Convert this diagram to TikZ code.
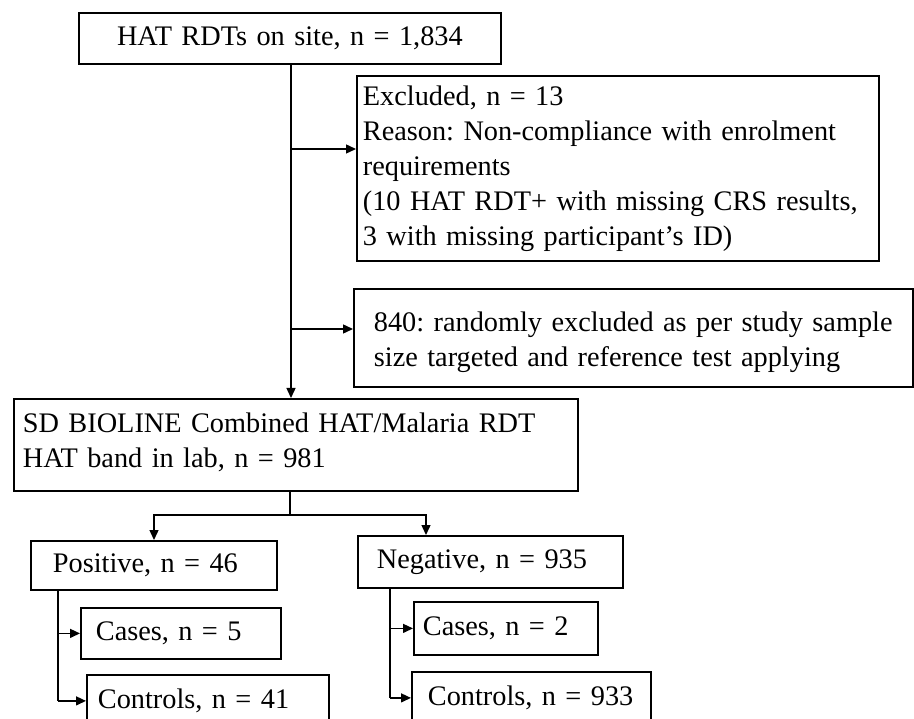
\documentclass[tikz,border=0pt]{standalone}
\usepackage{fontspec}
\setmainfont{Liberation Serif}
\usetikzlibrary{arrows.meta}
\begin{document}
\frenchspacing
\begin{tikzpicture}[x=1pt,y=-1pt,
  box/.style={draw, line width=1.8pt, anchor=north west, align=left,
    inner ysep=0pt, font={\fontsize{28.3}{35}\selectfont\hyphenpenalty=10000}},
  link/.style={line width=1.4pt},
  arr/.style={link, -{Triangle[length=10pt,width=9pt]}}]
\useasboundingbox (0,0) rectangle (914,719);

% boxes: width = text width + 2*inner xsep
\node[box, inner xsep=0pt, text width=422pt, align=center, minimum height=51pt] (top) at (78,12) {HAT RDTs on site, n = 1,834};
\node[box, inner xsep=6pt, text width=510pt, minimum height=185pt] (excl) at (356,75)
  {Excluded, n = 13\\Reason: Non-compliance with enrolment\\requirements\\(10 HAT RDT+ with missing CRS results,\\3 with missing participant’s ID)};
\node[box, inner xsep=20pt, text width=519pt, minimum height=98pt] (rand) at (353,288)
  {\\[-6pt]840: randomly excluded as per study sample\\size targeted and reference test applying};
\node[box, inner xsep=9pt, text width=546pt, minimum height=92pt] (sd) at (13,398)
  {SD BIOLINE Combined HAT/Malaria RDT\\HAT band in lab, n = 981\\[-25pt]\mbox{}};
\node[box, inner xsep=22pt, text width=202pt, minimum height=49pt] (pos) at (30,540) {Positive, n = 46};
\node[box, inner xsep=19pt, text width=227pt, minimum height=52pt] (neg) at (357,535) {Negative, n = 935};
\node[box, inner xsep=15pt, text width=170pt, minimum height=51pt] (pcase) at (80,607) {Cases, n = 5};
\node[box, inner xsep=11pt, text width=220pt, minimum height=52pt] (pctrl) at (86,674) {Controls, n = 41};
\node[box, inner xsep=9pt, text width=166pt, minimum height=53pt] (ncase) at (413,601) {Cases, n = 2};
\node[box, inner xsep=16pt, text width=207pt, minimum height=52pt] (nctrl) at (411,671) {Controls, n = 933};

% main trunk with side exits
\coordinate (t1) at (291,149);
\coordinate (t2) at (291,329);
\draw[arr] (top.south -| t1) -- (sd.north -| t1);
\draw[arr] (t1) -- (excl.west |- t1);
\draw[arr] (t2) -- (rand.west |- t2);

% split below the lab test
\coordinate (s) at (290,515);
\coordinate (sl) at (154,515);
\coordinate (sr) at (426,515);
\draw[link] (sd.south -| s) -- (s);
\draw[arr] (s) -- (sl) -- (pos.north -| sl);
\draw[arr] (s) -- (sr) -- (neg.north -| sr);

% positive branch
\coordinate (pb) at (58,0);
\draw[link] (pos.south -| pb) -- (pb |- pctrl.west);
\draw[arr] (pb |- pcase.west) -- (pcase.west);
\draw[arr] (pb |- pctrl.west) -- (pctrl.west);

% negative branch
\coordinate (nb) at (390,0);
\draw[link] (neg.south -| nb) -- (nb |- nctrl.west);
\draw[arr] (nb |- ncase.west) -- (ncase.west);
\draw[arr] (nb |- nctrl.west) -- (nctrl.west);
\end{tikzpicture}
\end{document}
